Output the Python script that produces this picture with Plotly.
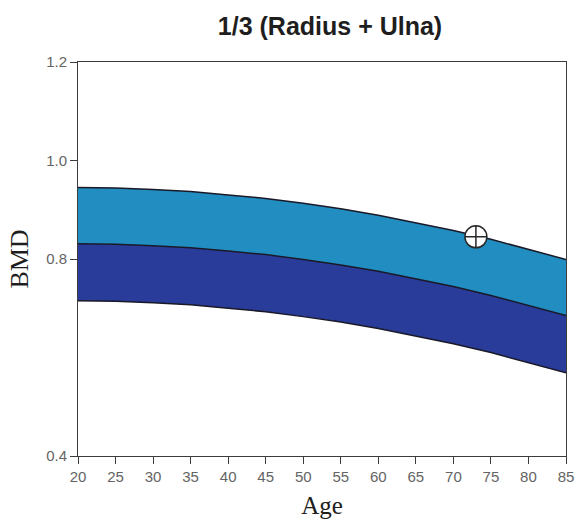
import plotly.graph_objects as go

ages = [20, 25, 30, 35, 40, 45, 50, 55, 60, 65, 70, 75, 80, 85]
upper = [0.945, 0.944, 0.941, 0.937, 0.930, 0.923, 0.913, 0.902, 0.889, 0.874, 0.858, 0.840, 0.820, 0.799]
middle = [0.831, 0.830, 0.827, 0.823, 0.816, 0.809, 0.799, 0.788, 0.775, 0.760, 0.744, 0.726, 0.706, 0.685]
lower = [0.715, 0.714, 0.711, 0.707, 0.700, 0.693, 0.683, 0.672, 0.659, 0.644, 0.628, 0.610, 0.590, 0.569]
patient_age = [73]
patient_bmd = [0.845]

y_ticks = [0.4, 0.8, 1.0, 1.2]
y_tick_text = ["0.4", "0.8", "1.0", "1.2"]
x_ticks = list(range(20, 90, 5))

teal = "rgb(34,141,192)"
navy = "rgb(42,60,154)"
edge = "rgb(25,25,40)"

fig = go.Figure()
fig.add_trace(go.Scatter(x=ages, y=lower, mode="lines",
                         line=dict(color=edge, width=1.5), hoverinfo="skip", showlegend=False))
fig.add_trace(go.Scatter(x=ages, y=middle, mode="lines", fill="tonexty", fillcolor=navy,
                         line=dict(color=edge, width=1.5), hoverinfo="skip", showlegend=False))
fig.add_trace(go.Scatter(x=ages, y=upper, mode="lines", fill="tonexty", fillcolor=teal,
                         line=dict(color=edge, width=1.5), hoverinfo="skip", showlegend=False))
fig.add_trace(go.Scatter(x=patient_age, y=patient_bmd, mode="markers",
                         marker=dict(symbol="circle-cross", size=22, color="white",
                                     line=dict(color="rgb(40,40,40)", width=1.5)),
                         showlegend=False))

fig.update_layout(
    width=586, height=527,
    margin=dict(l=78, r=14, t=62, b=69),
    paper_bgcolor="white", plot_bgcolor="white",
    title=dict(text="<b>1/3 (Radius + Ulna)</b>", x=330 / 586, xanchor="center",
               y=1 - 26 / 527, yanchor="middle",
               font=dict(family="Liberation Sans, Arial", size=25, color="rgb(30,30,30)")),
    font=dict(family="Liberation Sans, Arial", color="rgb(90,90,90)"),
)
fig.update_xaxes(range=[20, 85], tickvals=x_ticks, ticks="outside", ticklen=7,
                 tickcolor="rgb(60,60,60)", showline=True, linecolor="rgb(60,60,60)", linewidth=1,
                 mirror=True, showgrid=False, zeroline=False,
                 tickfont=dict(size=15, color="rgb(100,100,100)"),
                 title=dict(text="Age", font=dict(family="Liberation Serif, Times New Roman", size=25,
                                                  color="rgb(30,30,30)"), standoff=12))
fig.update_yaxes(range=[0.4, 1.2], tickvals=y_ticks, ticktext=y_tick_text, ticks="outside", ticklen=7,
                 tickcolor="rgb(60,60,60)", showline=True, linecolor="rgb(60,60,60)", linewidth=1,
                 mirror=True, showgrid=False, zeroline=False,
                 tickfont=dict(size=15, color="rgb(100,100,100)"),
                 title=dict(text="BMD", font=dict(family="Liberation Serif, Times New Roman", size=26,
                                                  color="rgb(30,30,30)"), standoff=10))

fig.write_html("out.html")
